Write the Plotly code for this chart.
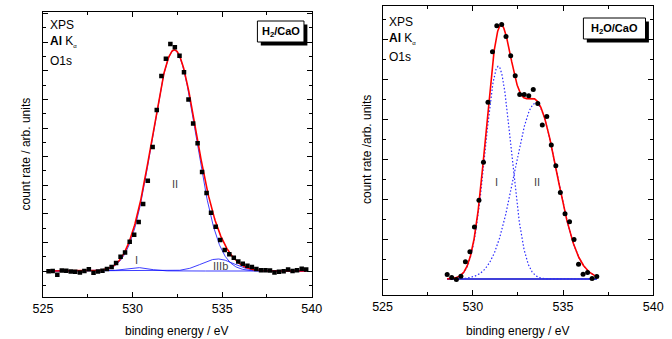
import numpy as np
import plotly.graph_objects as go

# ---------------- data ----------------
# left panel: H2/CaO, O1s
xL = [525.31, 525.54, 525.80, 526.05, 526.30, 526.55, 526.80, 527.06, 527.31, 527.56,
      527.82, 528.07, 528.32, 528.57, 528.83, 529.08, 529.33, 529.58, 529.84, 530.09,
      530.34, 530.59, 530.85, 531.12, 531.35, 531.61, 531.86, 532.11, 532.36, 532.62,
      532.87, 533.12, 533.38, 533.63, 533.88, 534.13, 534.38, 534.64, 534.89, 535.14,
      535.40, 535.65, 535.90, 536.15, 536.41, 536.66, 536.91, 537.17, 537.42, 537.67,
      537.92, 538.17, 538.43, 538.68, 538.93, 539.18, 539.44, 539.69]
yL = [-0.01, 0.00, -0.13, 0.02, 0.01, -0.02, -0.03, -0.05, 0.00, 0.06,
      -0.06, -0.02, 0.01, 0.07, 0.14, 0.28, 0.50, 0.65, 1.02, 1.27,
      1.71, 2.34, 3.16, 4.34, 5.63, 6.82, 7.42, 7.94, 7.82, 7.53,
      6.95, 6.00, 5.16, 4.47, 3.46, 2.73, 2.04, 1.55, 1.08, 0.73,
      0.59, 0.46, 0.33, 0.25, 0.18, 0.14, 0.07, 0.03, 0.03, 0.02,
      -0.05, -0.03, -0.01, 0.05, 0.00, 0.03, 0.08, 0.05]
# fitted components (left): names, centres, heights, sigmas
compL_names = ["I", "II", "IIIb"]
compL_center = [530.22, 532.33, 534.75]
compL_height = [0.12, 7.72, 0.42]
compL_sigma = [0.68, 1.22, 0.90]
fitL_range = [525.3, 539.7]

# right panel: H2O/CaO, O1s
xR = [528.58, 528.83, 529.09, 529.34, 529.59, 529.84, 530.09, 530.34, 530.59, 530.84,
      531.09, 531.33, 531.60, 531.84, 532.10, 532.35, 532.60, 532.85, 533.10, 533.35,
      533.60, 533.85, 534.10, 534.35, 534.60, 534.85, 535.11, 535.36, 535.61, 535.86,
      536.11, 536.36, 536.61, 536.87]
yR = [0.11, 0.04, -0.01, 0.07, 0.43, 0.68, 1.30, 1.97, 2.92, 4.42,
      5.68, 6.33, 6.36, 6.06, 5.58, 5.08, 4.61, 4.61, 4.58, 4.74,
      4.39, 3.85, 4.06, 3.35, 2.83, 2.16, 1.63, 1.43, 0.99, 0.37,
      0.12, 0.16, 0.01, 0.06]
compR_names = ["I", "II"]
compR_center = [531.41, 533.48]
compR_height = [5.32, 4.40]
compR_sigma = [0.72, 1.17]
fitR_range = [528.58, 536.87]

# component label positions (data coords)
labL_x = [530.2, 532.36, 534.91]
labL_y = [0.38, 3.04, 0.17]
labR_x = [531.33, 533.53]
labR_y = [2.42, 2.42]

xticks = [525, 530, 535, 540]

# ---------------- figure ----------------
W, H = 672, 339
FONT = "Liberation Sans, Arial, sans-serif"


def gauss(x, c, h, s):
    return h * np.exp(-((x - c) ** 2) / (2 * s ** 2))


def px(xp):
    return xp / W


def py(yp):
    return 1 - yp / H


fig = go.Figure()

# left panel
gL = np.linspace(fitL_range[0], fitL_range[1], 600)
compsL = [gauss(gL, c, h, s) for c, h, s in zip(compL_center, compL_height, compL_sigma)]
for comp in compsL:
    fig.add_trace(go.Scatter(x=gL, y=comp, mode="lines", xaxis="x", yaxis="y",
                             line=dict(color="rgba(0,0,255,0.85)", width=0.9), hoverinfo="skip"))
fig.add_trace(go.Scatter(x=gL, y=sum(compsL), mode="lines", xaxis="x", yaxis="y",
                         line=dict(color="#ff0000", width=1.6), hoverinfo="skip"))
fig.add_trace(go.Scatter(x=xL, y=yL, mode="markers", xaxis="x", yaxis="y",
                         marker=dict(symbol="square", size=4.5, color="black")))

# right panel
gR = np.linspace(fitR_range[0], fitR_range[1], 500)
compsR = [gauss(gR, c, h, s) for c, h, s in zip(compR_center, compR_height, compR_sigma)]
fig.add_trace(go.Scatter(x=fitR_range, y=[0, 0], mode="lines", xaxis="x2", yaxis="y2",
                         line=dict(color="#0000cc", width=1.3), hoverinfo="skip"))
for comp in compsR:
    fig.add_trace(go.Scatter(x=gR, y=comp, mode="lines", xaxis="x2", yaxis="y2",
                             line=dict(color="#2a2aff", width=1.2, dash="1.5px,2px"), hoverinfo="skip"))
fig.add_trace(go.Scatter(x=gR, y=sum(compsR), mode="lines", xaxis="x2", yaxis="y2",
                         line=dict(color="#ff0000", width=1.6), hoverinfo="skip"))
fig.add_trace(go.Scatter(x=xR, y=yR, mode="markers", xaxis="x2", yaxis="y2",
                         marker=dict(symbol="circle", size=5, color="black")))

xax = dict(range=[525, 540], tickvals=xticks, ticktext=[str(v) for v in xticks],
           ticks="inside", ticklen=5, tickwidth=1, tickcolor="black",
           minor=dict(dtick=2.5, tick0=525, ticks="inside", ticklen=3, tickcolor="black"),
           showline=True, linecolor="black", linewidth=1, mirror="ticks",
           showgrid=False, zeroline=False,
           tickfont=dict(family=FONT, size=12.5, color="black"))
yax = dict(ticks="inside", ticklen=5, tickwidth=1, tickcolor="black", dtick=1, tick0=0,
           minor=dict(dtick=0.5, tick0=0, ticks="inside", ticklen=3, tickcolor="black"),
           showticklabels=False, showline=True, linecolor="black", linewidth=1,
           mirror="ticks", showgrid=False, zeroline=False)

fig.update_layout(
    width=W, height=H, margin=dict(l=0, r=0, t=0, b=0),
    paper_bgcolor="white", plot_bgcolor="white", showlegend=False,
    font=dict(family=FONT, color="black"),
    xaxis=dict(xax, domain=[34 / W, 311 / W], anchor="y"),
    yaxis=dict(yax, domain=[(H - 297) / H, (H - 12) / H], range=[-0.909, 9.056], anchor="x"),
    xaxis2=dict(xax, domain=[384 / W, 663 / W], anchor="y2"),
    yaxis2=dict(yax, domain=[(H - 295) / H, (H - 6) / H], range=[-0.4, 6.825], anchor="x2"),
)

ann = []


def text(xp, yp, t, size=12, xanchor="center", yanchor="middle", color="black", angle=0):
    ann.append(dict(x=px(xp), y=py(yp), xref="paper", yref="paper", text=t, showarrow=False,
                    xanchor=xanchor, yanchor=yanchor, textangle=angle,
                    font=dict(family=FONT, size=size, color=color)))


# axis titles
text(172, 331, "binding energy / eV", 12)
text(523, 331, "binding energy / eV", 12)
text(17, 154, "count rate / arb. units", 12, angle=-90)
text(368, 150, "count rate /arb. units", 12, angle=-90)

# header text
for x0, ys in [(39, (25, 42, 61)), (389, (22, 39, 57))]:
    text(x0, ys[0], "XPS", 12, xanchor="left")
    text(x0, ys[1], "<b>Al</b> K<sub><span style='font-size:6px'>α</span></sub>", 12, xanchor="left")
    text(x0, ys[2], "O1s", 12, xanchor="left")

# boxes with shadows
shapes = []
for (x0, y0, x1, y1, label) in [(255, 21, 303, 42, "<b>H<sub>2</sub>/CaO</b>"),
                                (591, 18, 655, 39, "<b>H<sub>2</sub>O/CaO</b>")]:
    shapes.append(dict(type="rect", xref="paper", yref="paper",
                       x0=px(x0 + 3.5), x1=px(x1 + 3.5), y0=py(y1 + 3.5), y1=py(y0 + 3.5),
                       fillcolor="black", line=dict(width=0)))
    shapes.append(dict(type="rect", xref="paper", yref="paper",
                       x0=px(x0), x1=px(x1), y0=py(y1), y1=py(y0),
                       fillcolor="white", line=dict(color="black", width=1)))
    text((x0 + x1) / 2, (y0 + y1) / 2, label, 11)

# component labels
for n, xv, yv in zip(compL_names, labL_x, labL_y):
    ann.append(dict(x=xv, y=yv, xref="x", yref="y", text=n, showarrow=False,
                    font=dict(family=FONT, size=11, color="#444444")))
for n, xv, yv in zip(compR_names, labR_x, labR_y):
    ann.append(dict(x=xv, y=yv, xref="x2", yref="y2", text=n, showarrow=False,
                    font=dict(family=FONT, size=11, color="#444444")))

fig.update_layout(annotations=ann, shapes=shapes)
fig.write_html("out.html", config={"displayModeBar": False},
               post_script="document.body.style.margin='0px';document.body.style.overflow='hidden';")
